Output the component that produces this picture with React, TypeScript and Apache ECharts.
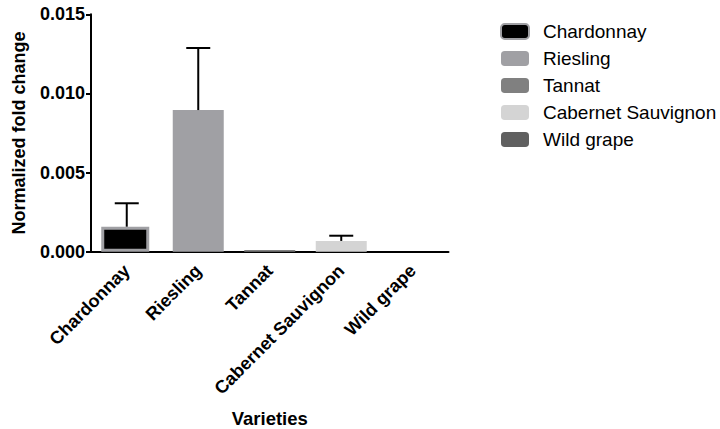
import React, { useEffect, useRef } from "react";
import * as echarts from "echarts";

const categories = ["Chardonnay", "Riesling", "Tannat", "Cabernet Sauvignon", "Wild grape"];
const means = [0.00158, 0.00895, 0.0001, 0.00068, 0];
const upperErrors = [0.00148, 0.00392, 0, 0.00033, 0];
const yTicks = [0, 0.005, 0.01, 0.015];

const fills = ["#000000", "#a0a0a4", "#808080", "#d4d4d4", "#606060"];
const borders = ["#a0a0a4", "#a0a0a4", "#808080", "#d4d4d4", "#606060"];

const FONT = "Liberation Sans, Arial, Helvetica, sans-serif";

export default function App() {
  const ref = useRef<HTMLDivElement>(null);
  useEffect(() => {
    if (!ref.current) return;
    const chart = echarts.init(ref.current, null, { renderer: "svg" });
    const barSeries = categories.map((name, i) => ({
      type: "bar",
      name,
      data: categories.map((_, j) => (j === i ? means[i] : "-")),
      barWidth: i === 0 ? 48 : 51,
      barGap: "-100%",
      itemStyle: {
        color: fills[i],
        borderColor: borders[i],
        borderWidth: i === 0 ? 3 : 0,
      },
      z: 2,
    }));
    const errData = categories
      .map((_, i) => [i, means[i], means[i] + upperErrors[i]])
      .filter((d) => d[2] > d[1]);
    const option: any = {
      animation: false,
      textStyle: { fontFamily: FONT },
      grid: {
        left: 91,
        right: 271.5,
        top: 14.3,
        bottom: 177.3,
        containLabel: false,
        outerBoundsMode: "none",
      },
      legend: {
        data: categories,
        orient: "vertical",
        left: 500,
        top: 22,
        padding: 0,
        itemWidth: 28,
        itemHeight: 15,
        itemGap: 8,
        icon: "roundRect",
        textStyle: {
          fontFamily: FONT,
          fontSize: 19,
          color: "#000",
          lineHeight: 19,
          padding: [0, 0, 0, 9],
        },
      },
      xAxis: {
        type: "category",
        data: categories,
        name: "Varieties",
        nameLocation: "middle",
        nameGap: 157,
        nameTextStyle: { fontFamily: FONT, fontSize: 18.5, fontWeight: "bold", color: "#000" },
        axisLine: { lineStyle: { color: "#000", width: 2 } },
        axisTick: { alignWithLabel: true, length: 6, lineStyle: { color: "#000", width: 2 } },
        axisLabel: {
          rotate: 45,
          margin: 16,
          interval: 0,
          fontFamily: FONT,
          fontSize: 18,
          fontWeight: "bold",
          color: "#000",
        },
      },
      yAxis: {
        type: "value",
        min: yTicks[0],
        max: yTicks[yTicks.length - 1],
        interval: yTicks[1] - yTicks[0],
        name: "Normalized fold change",
        nameLocation: "middle",
        nameGap: 63,
        nameTextStyle: { fontFamily: FONT, fontSize: 18, fontWeight: "bold", color: "#000" },
        splitLine: { show: false },
        axisLine: { show: true, lineStyle: { color: "#000", width: 2 } },
        axisTick: { show: true, length: 5, lineStyle: { color: "#000", width: 2 } },
        axisLabel: {
          margin: 6,
          fontFamily: FONT,
          fontSize: 18,
          fontWeight: "bold",
          color: "#000",
          formatter: (v: number) => v.toFixed(3),
        },
      },
      series: [
        ...barSeries,
        {
          type: "custom",
          name: "error",
          data: errData,
          encode: { x: 0, y: [1, 2] },
          z: 5,
          renderItem: (params: any, api: any) => {
            const base = api.coord([api.value(0), api.value(1)]);
            const top = api.coord([api.value(0), api.value(2)]);
            const half = 12;
            const style = { stroke: "#000", lineWidth: 2 };
            return {
              type: "group",
              children: [
                { type: "line", shape: { x1: base[0], y1: base[1], x2: top[0], y2: top[1] }, style },
                { type: "line", shape: { x1: top[0] - half, y1: top[1], x2: top[0] + half, y2: top[1] }, style },
              ],
            };
          },
        },
      ],
    };
    chart.setOption(option);
    return () => chart.dispose();
  }, []);
  return (
    <div
      ref={ref}
      style={{ position: "fixed", left: 0, top: 0, width: 720, height: 429, background: "#fff" }}
    />
  );
}
